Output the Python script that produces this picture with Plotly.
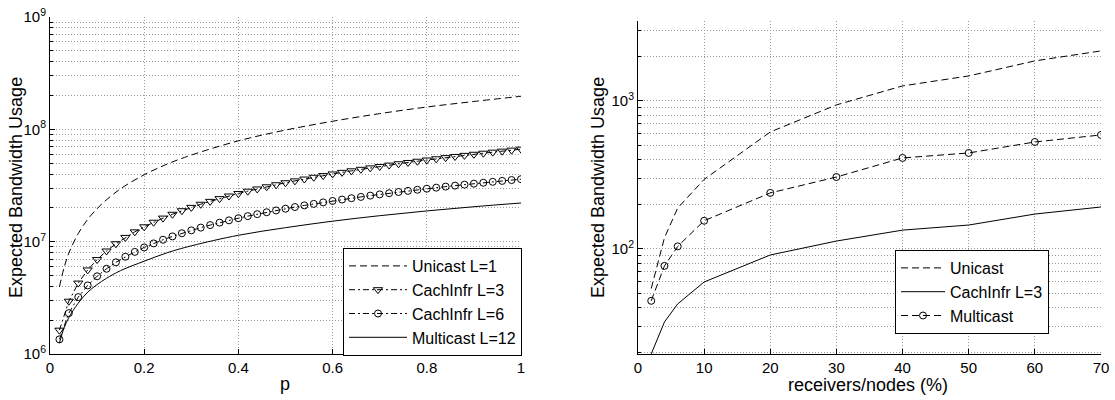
import plotly.graph_objects as go

# ---------------- data: left panel (values in millions) ----------------
p_markers = [round(0.02 * k, 2) for k in range(1, 51)]
cach3_M = [1.63, 2.95, 4.28, 5.60, 6.93, 8.26, 9.58, 10.91, 12.23, 13.56,
           14.89, 16.21, 17.54, 18.86, 20.19, 21.52, 22.84, 24.17, 25.49, 26.82,
           28.15, 29.47, 30.80, 32.12, 33.45, 34.78, 36.10, 37.43, 38.75, 40.08,
           41.41, 42.73, 44.06, 45.38, 46.71, 48.04, 49.36, 50.69, 52.01, 53.34,
           54.67, 55.99, 57.32, 58.64, 59.97, 61.30, 62.62, 63.95, 65.27, 66.60]
cach6_M = [1.35, 2.31, 3.21, 4.08, 4.92, 5.74, 6.55, 7.34, 8.11, 8.89,
           9.65, 10.40, 11.14, 11.88, 12.61, 13.33, 14.05, 14.77, 15.48, 16.18,
           16.89, 17.58, 18.28, 18.97, 19.65, 20.34, 21.02, 21.69, 22.37, 23.04,
           23.71, 24.37, 25.03, 25.70, 26.35, 27.01, 27.67, 28.32, 28.97, 29.61,
           30.26, 30.91, 31.55, 32.19, 32.83, 33.46, 34.10, 34.74, 35.37, 36.00]
p_lines = [0.02, 0.03, 0.04, 0.06, 0.08, 0.1, 0.12, 0.15, 0.2, 0.25, 0.3,
           0.4, 0.5, 0.6, 0.7, 0.8, 0.9, 1.0]
unicast_M = [3.95, 5.9, 7.9, 11.8, 15.8, 19.7, 23.6, 29.6, 39.4, 49.3, 59.0,
             79.0, 98.5, 118.0, 138.0, 158.0, 177.0, 197.0]
multicast_M = [1.25, 1.71, 2.11, 2.84, 3.55, 4.15, 4.72, 5.53, 6.7, 8.0, 9.18,
               11.4, 13.32, 15.22, 17.03, 18.78, 20.47, 22.1]

# ---------------- data: right panel ----------------
x_r = [2, 4, 6, 10, 20, 30, 40, 50, 60, 70]
unicast_r = [54, 119, 189, 295, 617, 940, 1263, 1475, 1864, 2177]
cachinfr_r = [19.5, 32.1, 42.5, 59.8, 91, 113, 134, 145, 172, 192]
multicast_r = [44.6, 76.8, 104, 155, 239, 306, 412, 445, 528, 589]

left_xticks = [0, 0.2, 0.4, 0.6, 0.8, 1]
left_xticktext = ["0", "0.2", "0.4", "0.6", "0.8", "1"]
right_xticks = [0, 10, 20, 30, 40, 50, 60, 70]

FONT = "Liberation Sans, Arial, Helvetica, sans-serif"
BLACK = "black"
GRID = "#9a9a9a"
DASH = "7px,4px"
DASHDOT = "6px,3px,2px,3px"

M = 1e6
fig = go.Figure()

fig.add_trace(go.Scatter(x=p_lines, y=[v * M for v in unicast_M], mode="lines",
                         name="Unicast L=1", line=dict(color=BLACK, width=1, dash=DASH, shape="spline"),
                         xaxis="x", yaxis="y", legend="legend"))
fig.add_trace(go.Scatter(x=p_markers, y=[v * M for v in cach3_M], mode="lines+markers",
                         name="CachInfr L=3", line=dict(color=BLACK, width=1, dash=DASHDOT),
                         marker=dict(symbol="triangle-down-open", size=8, color=BLACK, line=dict(width=1)),
                         xaxis="x", yaxis="y", legend="legend"))
fig.add_trace(go.Scatter(x=p_markers, y=[v * M for v in cach6_M], mode="lines+markers",
                         name="CachInfr L=6", line=dict(color=BLACK, width=1, dash=DASHDOT),
                         marker=dict(symbol="circle-open", size=7, color=BLACK, line=dict(width=1)),
                         xaxis="x", yaxis="y", legend="legend"))
fig.add_trace(go.Scatter(x=p_lines, y=[v * M for v in multicast_M], mode="lines",
                         name="Multicast L=12", line=dict(color=BLACK, width=1, shape="spline"),
                         xaxis="x", yaxis="y", legend="legend"))

fig.add_trace(go.Scatter(x=x_r, y=unicast_r, mode="lines", name="Unicast",
                         line=dict(color=BLACK, width=1, dash=DASH),
                         xaxis="x2", yaxis="y2", legend="legend2"))
fig.add_trace(go.Scatter(x=x_r, y=cachinfr_r, mode="lines", name="CachInfr L=3",
                         line=dict(color=BLACK, width=1),
                         xaxis="x2", yaxis="y2", legend="legend2"))
fig.add_trace(go.Scatter(x=x_r, y=multicast_r, mode="lines+markers", name="Multicast",
                         line=dict(color=BLACK, width=1, dash=DASH),
                         marker=dict(symbol="circle-open", size=7, color=BLACK, line=dict(width=1)),
                         xaxis="x2", yaxis="y2", legend="legend2"))

minor_left = [d * 10 ** e for e in range(6, 9) for d in range(2, 10)]
minor_right = [d * 10 ** e for e in range(1, 4) for d in range(2, 10)
               if 19.5 < d * 10 ** e < 3500]

common_axis = dict(showline=True, linecolor=BLACK, linewidth=1, ticks="inside",
                   ticklen=5, tickcolor=BLACK, showgrid=True, gridcolor=GRID,
                   griddash="1px,2px", gridwidth=1, zeroline=False, mirror=False,
                   tickfont=dict(family=FONT, size=15, color=BLACK), automargin=False)

legend_common = dict(xanchor="right", yanchor="bottom", bgcolor="white",
                     bordercolor=BLACK, borderwidth=1,
                     font=dict(family=FONT, size=16, color=BLACK), tracegroupgap=0)

fig.update_layout(
    width=1115, height=400,
    margin=dict(l=0, r=0, t=0, b=0),
    paper_bgcolor="white", plot_bgcolor="white",
    font=dict(family=FONT, color=BLACK),
    xaxis=dict(domain=[50 / 1115, 521 / 1115], range=[0, 1], tickvals=left_xticks,
               ticktext=left_xticktext, anchor="y", **common_axis),
    yaxis=dict(domain=[1 - 354 / 400, 1 - 17 / 400], type="log", range=[6, 9],
               tickvals=[1e6, 1e7, 1e8, 1e9],
               ticktext=["10<sup>6</sup>", "10<sup>7</sup>", "10<sup>8</sup>", "10<sup>9</sup>"],
               anchor="x",
               minor=dict(tickvals=minor_left, ticks="inside", ticklen=3, tickcolor=BLACK,
                          showgrid=True, gridcolor=GRID, griddash="1px,2px", gridwidth=1),
               **common_axis),
    xaxis2=dict(domain=[638 / 1115, 1101 / 1115], range=[0, 70], tickvals=right_xticks,
                anchor="y2", **common_axis),
    yaxis2=dict(domain=[1 - 354 / 400, 1 - 21 / 400], type="log", range=[1.29, 3.54],
                tickvals=[100, 1000], ticktext=["10<sup>2</sup>", "10<sup>3</sup>"],
                anchor="x2",
                minor=dict(tickvals=minor_right, ticks="inside", ticklen=3, tickcolor=BLACK,
                           showgrid=True, gridcolor=GRID, griddash="1px,2px", gridwidth=1),
                **common_axis),
    legend=dict(x=522 / 1115, y=1 - 356 / 400, itemwidth=58, **legend_common),
    legend2=dict(x=1049 / 1115, y=1 - 334 / 400, itemwidth=44, **legend_common),
    showlegend=True,
    annotations=[
        dict(text="Expected Bandwidth Usage", x=16 / 1115, y=1 - 188 / 400, xref="paper", yref="paper",
             textangle=-90, showarrow=False, font=dict(family=FONT, size=18, color=BLACK),
             xanchor="center", yanchor="middle"),
        dict(text="p", x=285 / 1115, y=1 - 384 / 400, xref="paper", yref="paper",
             showarrow=False, font=dict(family=FONT, size=18, color=BLACK),
             xanchor="center", yanchor="middle"),
        dict(text="Expected Bandwidth Usage", x=598 / 1115, y=1 - 188 / 400, xref="paper", yref="paper",
             textangle=-90, showarrow=False, font=dict(family=FONT, size=18, color=BLACK),
             xanchor="center", yanchor="middle"),
        dict(text="receivers/nodes (%)", x=868 / 1115, y=1 - 385 / 400, xref="paper", yref="paper",
             showarrow=False, font=dict(family=FONT, size=18, color=BLACK),
             xanchor="center", yanchor="middle"),
    ],
)

fig.write_html("out.html")
